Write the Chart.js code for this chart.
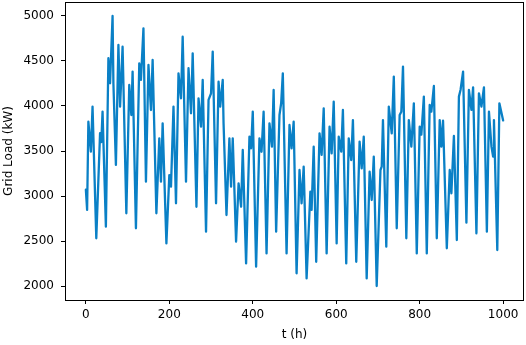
<!DOCTYPE html>
<html>
<head>
<meta charset="utf-8">
<script src="https://cdn.jsdelivr.net/npm/chart.js@4/dist/chart.umd.min.js"></script>
<style>
  html, body { margin: 0; padding: 0; background: #fff; }
  canvas { display: block; }
</style>
</head>
<body>
<canvas id="loadChart" width="526" height="345"></canvas>
<script>
// Hours (t) and grid load (kW) at turning points
const hours = [
    0, 3, 6, 12, 16, 25, 34, 37, 40, 48, 54, 58, 64, 66, 72, 78, 82, 88, 97, 104,
    109, 112, 120, 128, 132, 138, 144, 150, 156, 160, 169, 176, 180, 184, 193, 200, 204, 210, 216, 222,
    228, 232, 240, 246, 252, 256, 265, 270, 276, 280, 288, 294, 300, 304, 312, 318, 322, 328, 330, 337,
    344, 348, 352, 360, 366, 372, 376, 384, 392, 396, 400, 408, 416, 421, 426, 433, 440, 446, 450, 456,
    464, 468, 472, 481, 488, 493, 498, 505, 512, 517, 522, 529, 538, 541, 546, 552, 560, 565, 570, 577,
    584, 589, 594, 601, 606, 612, 616, 624, 630, 636, 640, 648, 656, 661, 666, 673, 680, 685, 690, 697,
    706, 709, 712, 720, 726, 733, 738, 745, 752, 756, 760, 768, 774, 780, 786, 793, 800, 804, 810, 817,
    824, 828, 834, 841, 848, 852, 856, 865, 872, 876, 882, 889, 894, 898, 904, 912, 918, 924, 928, 936,
    942, 948, 954, 961, 966, 972, 976, 978, 986, 991, 1000
];
const loadKW = [
    3070, 2845, 3826, 3492, 3993, 2530, 3697, 3600, 3937, 2659, 4530, 4252, 5000, 4252, 3345, 4678, 3993, 4659, 2808, 4233,
    3900, 4382, 2641, 4474, 4289, 4863, 3159, 4456, 3955, 4511, 2808, 3641, 3159, 3807, 2474, 3233, 3104, 3993, 2919, 4363,
    4085, 4770, 3159, 4419, 3919, 4585, 2881, 4085, 3770, 4289, 2604, 4067, 4141, 4604, 2919, 4270, 3993, 4289, 3807, 2789,
    3641, 3104, 3641, 2493, 3141, 2881, 3511, 2252, 3659, 3530, 3937, 2215, 3641, 3492, 3937, 2363, 3807, 3548, 4178, 2604,
    3900, 4030, 4363, 2363, 3789, 3530, 3826, 2141, 3289, 2919, 3326, 2085, 3048, 2845, 3548, 2270, 3696, 3456, 3974, 2363,
    3770, 3474, 4048, 2474, 3659, 3493, 3956, 2252, 3641, 3400, 3844, 2270, 3604, 3307, 3659, 2085, 3270, 2956, 3437, 2000,
    3289, 3326, 3844, 2437, 3993, 3696, 4326, 2641, 3900, 3937, 4437, 2530, 3844, 3548, 4030, 2363, 3770, 3681, 4104, 2363,
    4011, 3937, 4222, 2530, 3844, 3548, 3837, 2419, 3289, 3030, 3667, 2511, 4104, 4180, 4382, 2704, 4178, 3956, 4207, 2585,
    4141, 3993, 4207, 2604, 3937, 3548, 3437, 3844, 2400, 4030, 3840
];
const xTicks = [0, 200, 400, 600, 800, 1000];
const yTicks = [2000, 2500, 3000, 3500, 4000, 4500, 5000];

const lineColor = '#0a80c6';
const tickFont = { family: 'DejaVu Sans', size: 12 };

// Draw the black box around the plot area, like matplotlib spines
const frameBox = {
    id: 'frameBox',
    afterDraw(chart) {
        const { ctx, chartArea } = chart;
        ctx.save();
        ctx.strokeStyle = '#000';
        ctx.lineWidth = 1;
        ctx.strokeRect(Math.round(chartArea.left) + 0.5, Math.round(chartArea.top) + 0.5,
            Math.round(chartArea.right - chartArea.left) - 1, Math.round(chartArea.bottom - chartArea.top));
        ctx.restore();
    }
};

const ctx = document.getElementById('loadChart').getContext('2d');
new Chart(ctx, {
    type: 'line',
    data: {
        datasets: [{
            data: hours.map((h, i) => ({ x: h, y: loadKW[i] })),
            borderColor: lineColor,
            borderWidth: 2.3,
            borderJoinStyle: 'round',
            borderCapStyle: 'round',
            pointRadius: 0,
            tension: 0,
            fill: false
        }]
    },
    options: {
        responsive: false,
        devicePixelRatio: 1,
        animation: false,
        layout: { padding: { top: 2, right: 2, left: 0, bottom: 0 } },
        plugins: { legend: { display: false }, tooltip: { enabled: false } },
        scales: {
            x: {
                type: 'linear',
                min: -50,
                max: 1050,
                afterBuildTicks: scale => { scale.ticks = xTicks.map(v => ({ value: v })); },
                afterFit: scale => {
                    scale.height = 45;
                    scale.paddingLeft = 0;
                    scale.paddingRight = 0;
                },
                grid: { display: true, drawOnChartArea: false, drawTicks: true, tickLength: 4, color: '#000' },
                border: { display: false },
                ticks: { color: '#000', font: tickFont, padding: 4, maxRotation: 0, callback: v => String(v) },
                title: { display: true, text: 't (h)', color: '#000', font: tickFont, padding: { top: 0, bottom: 3 } }
            },
            y: {
                min: 1845,
                max: 5155,
                afterBuildTicks: scale => { scale.ticks = yTicks.map(v => ({ value: v })); },
                afterFit: scale => {
                    scale.width = 65;
                    scale.paddingTop = 0;
                    scale.paddingBottom = 0;
                },
                grid: { display: true, drawOnChartArea: false, drawTicks: true, tickLength: 4, color: '#000' },
                border: { display: false },
                ticks: { color: '#000', font: tickFont, padding: 7, callback: v => String(v) },
                title: { display: true, text: 'Grid Load (kW)', color: '#000', font: tickFont, padding: { top: 2, bottom: 0 } }
            }
        }
    },
    plugins: [frameBox]
});
</script>
</body>
</html>
